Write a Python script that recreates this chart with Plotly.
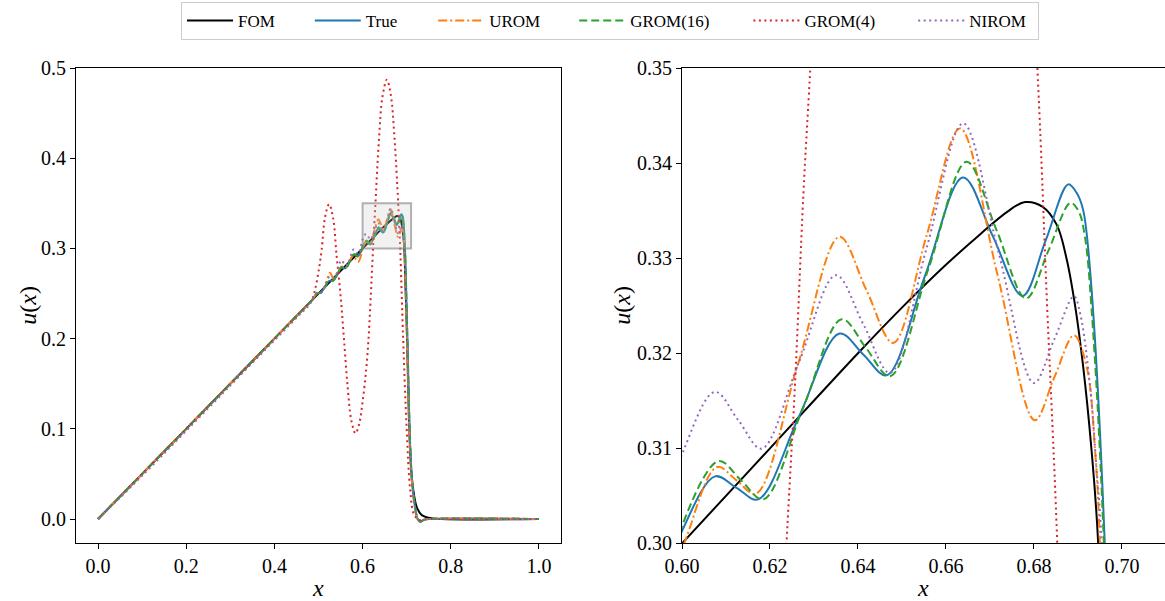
import plotly.graph_objects as go

# ---- solution profiles u(x) for each model ----
FOM_X = [0.0, 0.2, 0.4, 0.6, 0.62, 0.64, 0.65, 0.66, 0.668, 0.674, 0.678, 0.682, 0.6852,
         0.6874, 0.6893, 0.6912, 0.6931, 0.6946, 0.698, 0.701, 0.706, 0.711, 0.715, 0.7226,
         0.734, 0.749, 0.78, 1.0]
FOM_U = [0.0, 0.1, 0.2, 0.3, 0.31, 0.32, 0.3248, 0.3293, 0.3326, 0.3349, 0.3359, 0.3354,
         0.3335, 0.3300, 0.3252, 0.3186, 0.3098, 0.3001, 0.248, 0.200, 0.100, 0.050, 0.032,
         0.0136, 0.0044, 0.0014, 0.0, 0.0]

TRUE_X = [0.0, 0.2, 0.4, 0.47, 0.4863, 0.4957, 0.5051, 0.5143, 0.5237, 0.5331, 0.5423, 0.5517,
          0.5611, 0.5703, 0.5797, 0.5891, 0.5983, 0.6002, 0.6075, 0.6124, 0.6173, 0.6266,
          0.6358, 0.6412, 0.6465, 0.6552, 0.6639, 0.6707, 0.6774, 0.6827, 0.6878, 0.6898,
          0.6912, 0.6927, 0.6961, 0.7015, 0.7065, 0.711, 0.717, 0.725, 0.731, 0.738, 0.75, 1.0]
TRUE_U = [0.0, 0.1, 0.2, 0.235, 0.2432, 0.2494, 0.2511, 0.2572, 0.2639, 0.2646, 0.2712, 0.2784,
          0.2781, 0.2852, 0.2928, 0.2912, 0.2992, 0.3015, 0.30705, 0.30584, 0.30463, 0.31335,
          0.32207, 0.31988, 0.31768, 0.32809, 0.33849, 0.33226, 0.32603, 0.3319, 0.33776,
          0.3368, 0.33505, 0.32908, 0.3001, 0.200, 0.100, 0.050, 0.020, 0.0, -0.003, -0.001,
          0.0, 0.0]

UROM_X = [0.0, 0.2, 0.4, 0.47, 0.4863, 0.4957, 0.505, 0.515, 0.526, 0.535, 0.5435, 0.552, 0.561,
          0.570, 0.578, 0.590, 0.6007, 0.6080, 0.6124, 0.6168, 0.6263, 0.6358, 0.6419, 0.6480,
          0.6556, 0.6632, 0.6717, 0.6802, 0.6846, 0.6891, 0.6920, 0.6939, 0.6950, 0.7005,
          0.7057, 0.7105, 0.7165, 0.7245, 0.7305, 0.7375, 0.75, 1.0]
UROM_U = [0.0, 0.1, 0.2, 0.235, 0.2432, 0.2498, 0.2505, 0.2575, 0.273, 0.2655, 0.2718, 0.280,
          0.2785, 0.285, 0.292, 0.285, 0.30024, 0.30803, 0.30663, 0.30523, 0.31874, 0.33224,
          0.32667, 0.32109, 0.33237, 0.34365, 0.3283, 0.31295, 0.31742, 0.32189, 0.31856,
          0.30979, 0.3001, 0.200, 0.100, 0.050, 0.020, 0.0, -0.003, -0.001, 0.0, 0.0]

GROM16_X = [0.0, 0.2, 0.4, 0.47, 0.4865, 0.4963, 0.5057, 0.515, 0.5243, 0.5337, 0.543, 0.5523,
            0.5617, 0.571, 0.5803, 0.5897, 0.599, 0.6002, 0.6083, 0.6134, 0.6185, 0.6274,
            0.6363, 0.6418, 0.6473, 0.6560, 0.6647, 0.6715, 0.6782, 0.6833, 0.6883, 0.6902,
            0.6916, 0.6931, 0.6959, 0.7017, 0.7067, 0.7112, 0.7172, 0.7252, 0.7312, 0.738,
            0.75, 1.0]
GROM16_U = [0.0, 0.1, 0.2, 0.235, 0.2433, 0.2502, 0.2509, 0.2575, 0.2647, 0.2644, 0.2715, 0.2792,
            0.2779, 0.2855, 0.2937, 0.2913, 0.2995, 0.30207, 0.30866, 0.30665, 0.30463, 0.3141,
            0.32358, 0.32058, 0.31758, 0.32886, 0.34014, 0.33295, 0.32576, 0.33079, 0.33582,
            0.3349, 0.33224, 0.3247, 0.3001, 0.200, 0.100, 0.050, 0.020, 0.0, -0.003, -0.001,
            0.0, 0.0]

GROM4_X = [0.0, 0.2, 0.4, 0.47, 0.485, 0.492, 0.500, 0.507, 0.515, 0.524, 0.533, 0.541, 0.550,
           0.558, 0.566, 0.575, 0.584, 0.592, 0.600, 0.608, 0.613, 0.617, 0.6206, 0.6238, 0.6257,
           0.6276, 0.6291, 0.637, 0.645, 0.655, 0.664, 0.672, 0.6808, 0.6830, 0.6853, 0.692,
           0.700, 0.708, 0.7167, 0.729, 0.75, 1.0]
GROM4_U = [0.0, 0.1, 0.2, 0.235, 0.243, 0.254, 0.274, 0.298, 0.335, 0.349, 0.334, 0.292, 0.248,
           0.198, 0.147, 0.108, 0.095, 0.105, 0.130, 0.165, 0.196, 0.232, 0.268, 0.3003, 0.3168,
           0.3368, 0.3494, 0.420, 0.468, 0.487, 0.470, 0.425, 0.3498, 0.3250, 0.3001, 0.200,
           0.100, 0.032, 0.005, -0.001, 0.0, 0.0]

NIROM_X = [0.0, 0.1, 0.3, 0.45, 0.48, 0.4955, 0.506, 0.514, 0.5235, 0.534, 0.542, 0.5515, 0.562,
           0.570, 0.5795, 0.590, 0.6002, 0.6075, 0.6128, 0.6181, 0.6266, 0.6350, 0.6412, 0.6473,
           0.6556, 0.6639, 0.6720, 0.6800, 0.6846, 0.6891, 0.6905, 0.6927, 0.6942, 0.6954,
           0.701, 0.706, 0.7108, 0.7168, 0.7248, 0.7308, 0.7378, 0.75, 1.0]
NIROM_U = [0.0, 0.048, 0.148, 0.223, 0.238, 0.2508, 0.251, 0.258, 0.2678, 0.267, 0.273, 0.2868,
           0.281, 0.287, 0.2988, 0.294, 0.3096, 0.31593, 0.31295, 0.30996, 0.31909, 0.32821,
           0.32307, 0.31793, 0.33106, 0.34418, 0.33053, 0.31687, 0.32144, 0.3260, 0.3242,
           0.31681, 0.30803, 0.3001, 0.200, 0.100, 0.050, 0.020, 0.0, -0.003, -0.001, 0.0, 0.0]

NAMES = ["FOM", "True", "UROM", "GROM(16)", "GROM(4)", "NIROM"]
COLORS = ["#000000", "#1f77b4", "#ff7f0e", "#2ca02c", "#d62728", "#9467bd"]
DASHES = ["solid", "solid", "9px,3px,2px,3px", "8px,4px", "2px,3.5px", "2px,3.5px"]
LEGEND_WIDTHS = [66.8, 62.4, 80, 113.2, 103.8, 63]
SERIES_X = [FOM_X, TRUE_X, UROM_X, GROM16_X, GROM4_X, NIROM_X]
SERIES_U = [FOM_U, TRUE_U, UROM_U, GROM16_U, GROM4_U, NIROM_U]

# zoom window shown on the right and outlined on the left
ZOOM_X = (0.60, 0.71)
ZOOM_Y = (0.30, 0.35)

W, H = 1165, 601
FONT = "Liberation Serif"

fig = go.Figure()
for name, xs, us, col, dash, lw in zip(NAMES, SERIES_X, SERIES_U, COLORS, DASHES, LEGEND_WIDTHS):
    line = dict(color=col, width=2, dash=dash, shape="spline", smoothing=1)
    fig.add_trace(go.Scatter(x=xs, y=us, mode="lines", name=name, line=line,
                             xaxis="x", yaxis="y", legendwidth=lw))
    fig.add_trace(go.Scatter(x=xs, y=us, mode="lines", name=name, line=line,
                             xaxis="x2", yaxis="y2", showlegend=False))

axis_common = dict(showline=True, linecolor="black", linewidth=1, showgrid=False,
                   zeroline=False, ticks="outside", ticklen=5, tickwidth=1, automargin=False,
                   tickcolor="black", tickfont=dict(family=FONT, size=20, color="#000"))

ydom = [1 - 543.4 / H, 1 - 68 / H]
title_font = dict(family=FONT, size=24, color="#000")
ymid = (ydom[0] + ydom[1]) / 2

# axis titles placed as paper annotations
titles = [
    dict(text="<i>x</i>", x=318 / W, y=1 - 588 / H, textangle=0),
    dict(text="<i>x</i>", x=923 / W, y=1 - 588 / H, textangle=0),
    dict(text="<i>u</i>(<i>x</i>)", x=28 / W, y=ymid, textangle=-90),
    dict(text="<i>u</i>(<i>x</i>)", x=622 / W, y=ymid, textangle=-90),
]
annotations = [dict(a, xref="paper", yref="paper", xanchor="center", yanchor="middle",
                    showarrow=False, font=title_font) for a in titles]

fig.update_layout(
    width=W, height=H,
    margin=dict(l=0, r=0, t=0, b=0, autoexpand=False),
    paper_bgcolor="white", plot_bgcolor="white",
    font=dict(family=FONT, color="black"),
    xaxis=dict(axis_common, domain=[76 / W, 561 / W], range=[-0.05, 1.05],
               tickvals=[0, 0.2, 0.4, 0.6, 0.8, 1.0], tickformat=".1f", mirror=True,
               anchor="y"),
    yaxis=dict(axis_common, domain=ydom, range=[-0.027, 0.5],
               tickvals=[0, 0.1, 0.2, 0.3, 0.4, 0.5], tickformat=".1f", mirror=True,
               anchor="x"),
    xaxis2=dict(axis_common, domain=[682 / W, 1.0], range=[ZOOM_X[0], 0.7098],
                tickvals=[0.60, 0.62, 0.64, 0.66, 0.68, 0.70], tickformat=".2f", mirror=True,
                anchor="y2"),
    yaxis2=dict(axis_common, domain=ydom, range=list(ZOOM_Y),
                tickvals=[0.30, 0.31, 0.32, 0.33, 0.34, 0.35], tickformat=".2f", mirror=False,
                anchor="x2"),
    legend=dict(orientation="h", x=181 / W, xanchor="left", y=1 - 2 / H, yanchor="top",
                bgcolor="white", bordercolor="#cccccc", borderwidth=1,
                font=dict(family=FONT, size=17), itemwidth=46),
    annotations=annotations,
    shapes=[dict(type="rect", xref="x", yref="y", x0=ZOOM_X[0], x1=ZOOM_X[1],
                 y0=ZOOM_Y[0], y1=ZOOM_Y[1], layer="above",
                 fillcolor="rgba(200,200,200,0.25)",
                 line=dict(color="rgba(128,128,128,0.6)", width=2))],
)

fig.write_html("out.html")
